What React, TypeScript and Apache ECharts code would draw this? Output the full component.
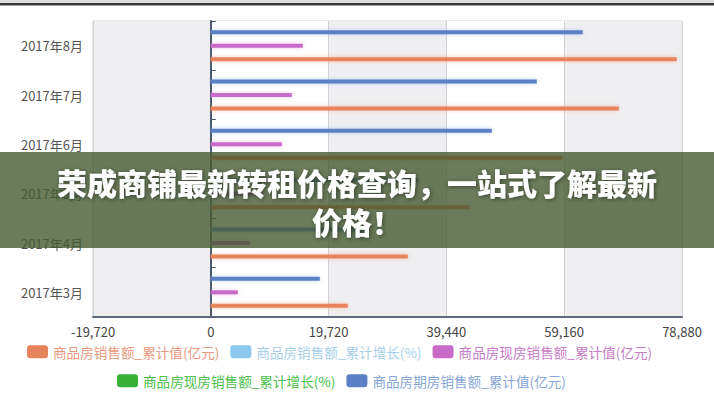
import React, { useEffect, useRef } from "react";
import * as echarts from "echarts";

const categories = ["2017年3月", "2017年4月", "2017年5月", "2017年6月", "2017年7月", "2017年8月"];
const salesTotal = [22930, 32980, 43360, 58920, 68300, 78000];
const salesGrowth = [18.2, 17.6, 16.9, 16.1, 15.4, 14.8];
const existingTotal = [4520, 6530, 8620, 11890, 13560, 15400];
const existingGrowth = [9.5, 9.1, 8.7, 8.2, 7.8, 7.4];
const futuresTotal = [18250, 26450, 34740, 47040, 54570, 62270];
const xTicks = { min: -19720, max: 78880, interval: 19720 };

const seriesNames = [
  "商品房销售额_累计值(亿元)",
  "商品房销售额_累计增长(%)",
  "商品房现房销售额_累计值(亿元)",
  "商品房现房销售额_累计增长(%)",
  "商品房期房销售额_累计值(亿元)",
];
const colors = ["#e8845c", "#8cc8ee", "#c96cc9", "#36b036", "#5b80c6"];
const legendTextColors = ["#e89a80", "#a8d0ec", "#c77dc7", "#4cbf4c", "#86a6d6"];
const glowColors = [
  "rgba(245,160,125,0.55)",
  "rgba(150,200,240,0.4)",
  "rgba(220,140,220,0.5)",
  "rgba(80,200,80,0.4)",
  "rgba(140,180,235,0.55)",
];
const seriesData = [salesTotal, salesGrowth, existingTotal, existingGrowth, futuresTotal];

const fmt = (v: number) => {
  const s = Math.abs(v).toString().replace(/\B(?=(\d{3})+(?!\d))/g, ",");
  return (v < 0 ? "-" : "") + s;
};

export default function App() {
  const ref = useRef<HTMLDivElement>(null);
  useEffect(() => {
    if (!ref.current) return;
    const chart = echarts.init(ref.current, undefined, { renderer: "svg" });
    const font = "'Noto Sans CJK SC', 'Noto Sans', sans-serif";
    const mkLegend = (idx: number[], left: number, top: number) => ({
      left,
      top,
      padding: 0,
      itemWidth: 21,
      itemHeight: 13,
      itemGap: 11,
      icon: "roundRect",
      data: idx.map((i) => ({
        name: seriesNames[i],
        textStyle: { color: legendTextColors[i], fontSize: 13.6, fontFamily: font },
      })),
    });
    const order = [4, 3, 2, 1, 0];
    chart.setOption({
      animation: false,
      backgroundColor: "#ffffff",
      grid: {
        left: 93,
        right: 32,
        top: 21,
        bottom: 83,
        show: true,
        borderColor: "#d4d4d8",
        borderWidth: 1,
        backgroundColor: "transparent",
      },
      legend: [mkLegend([0, 1, 2], 27, 345), mkLegend([3, 4], 117, 374)],
      xAxis: {
        type: "value",
        min: xTicks.min,
        max: xTicks.max,
        interval: xTicks.interval,
        axisLine: { show: true, onZero: false, lineStyle: { color: "#5d6b7a", width: 2 } },
        axisTick: { show: false },
        axisLabel: {
          color: "#444",
          fontSize: 13,
          fontFamily: font,
          margin: 8,
          formatter: (v: number) => fmt(v),
        },
        splitLine: { show: true, lineStyle: { color: "#d2d2d6", width: 1 } },
        splitArea: { show: true, areaStyle: { color: ["#efeff1", "#ffffff"] } },
      },
      yAxis: [
        {
          type: "category",
          data: categories,
          position: "left",
          axisLine: { show: false, onZero: false },
          axisTick: { show: false },
          axisLabel: { color: "#555", fontSize: 13, fontFamily: font, margin: 10 },
          splitLine: { show: true, lineStyle: { color: "#d4d4d8", width: 1 } },
        },
        {
          type: "category",
          data: categories,
          position: "left",
          axisLine: { show: true, onZero: true, lineStyle: { color: "#4a5a6c", width: 2 } },
          axisTick: { show: true, inside: true, length: 5, lineStyle: { color: "#4a5a6c" } },
          axisLabel: { show: false },
          splitLine: { show: false },
        },
      ],
      series: order.map((i) => ({
        name: seriesNames[i],
        type: "bar",
        yAxisIndex: 0,
        data: seriesData[i],
        barWidth: 4,
        barGap: "69%",
        itemStyle: {
          color: colors[i],
          shadowBlur: 4,
          shadowColor: glowColors[i],
        },
      })),
      graphic: [
        { type: "rect", left: 0, top: 0, shape: { width: 714, height: 3 }, style: { fill: "#dcdcdc" }, z: 100 },
        { type: "rect", left: 0, top: 3, shape: { width: 714, height: 2.5 }, style: { fill: "#3a3a3a" }, z: 100 },
        {
          type: "rect",
          left: 0,
          top: 152,
          shape: { width: 714, height: 96 },
          style: { fill: "rgba(70,90,50,0.8)" },
          z: 100,
        },
        {
          type: "text",
          x: 357,
          y: 201.5,
          z: 101,
          style: {
            text: "荣成商铺最新转租价格查询，一站式了解最新\n价格！",
            fill: "#ffffff",
            font: `900 30px ${font}`,
            lineHeight: 39,
            align: "center",
            verticalAlign: "middle",
            textShadowColor: "rgba(0,0,0,0.45)",
            textShadowBlur: 4,
            textShadowOffsetX: 1,
            textShadowOffsetY: 1,
          },
        },
      ],
    });
    return () => chart.dispose();
  }, []);
  return (
    <div
      ref={ref}
      style={{ position: "fixed", left: 0, top: 0, width: 714, height: 400 }}
    />
  );
}
